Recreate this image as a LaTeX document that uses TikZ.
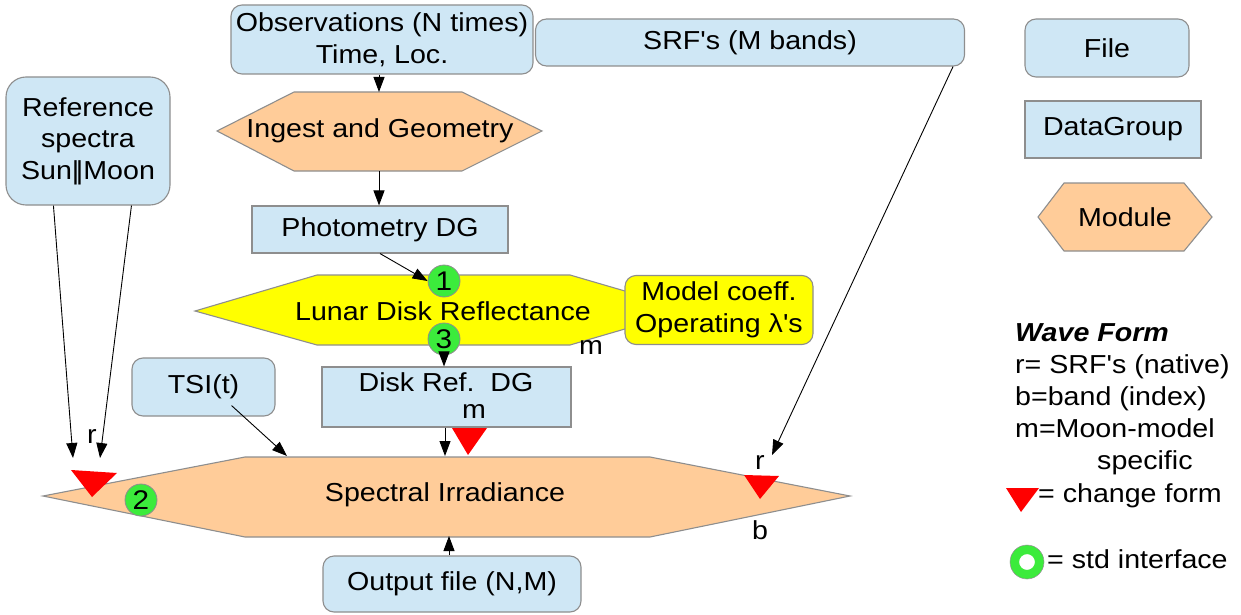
\documentclass[tikz,border=0pt]{standalone}
\usepackage{fontspec}
\setmainfont{Liberation Sans}[FakeStretch=1.1, Ligatures=TeXOff]
\usetikzlibrary{arrows.meta,calc}
\definecolor{fileblue}{HTML}{CFE7F5}
\definecolor{modorange}{HTML}{FFCC99}
\definecolor{lunaryellow}{HTML}{FFFF00}
\definecolor{ifgreen}{HTML}{3CEB3C}
\definecolor{edgegray}{HTML}{8E8E8E}
\definecolor{formred}{HTML}{FF0000}

\tikzset{
  txt/.style={font=\fontsize{26}{31.5}\selectfont, inner sep=0pt},
  filebox/.style={draw=edgegray, line width=1.1pt, fill=fileblue, rounded corners=11pt,
    align=center, inner sep=0pt, font=\fontsize{26}{31.5}\selectfont},
  dgbox/.style={draw=edgegray, line width=1.1pt, fill=fileblue,
    align=center, inner sep=0pt, font=\fontsize{26}{31.5}\selectfont},
  modshape/.style={draw=edgegray, line width=1.1pt, fill=modorange},
  lunshape/.style={draw=edgegray, line width=1.1pt, fill=lunaryellow},
  arr/.style={draw=black, line width=0.9pt, -{Triangle[length=15pt,width=11pt]}},
  iface/.style={circle, draw=edgegray, line width=0.8pt, fill=ifgreen,
    minimum size=32pt, inner sep=0pt, font=\fontsize{27}{27}\selectfont},
}

\begin{document}
\begin{tikzpicture}[x=1pt,y=-1pt]
\useasboundingbox (0,0) rectangle (1241,615);

% ---------- input files ----------
\node[filebox, minimum width=302pt, minimum height=69pt] (obs) at (382,39.5)
  {Observations (N times)\\Time, Loc.};
\node[filebox, minimum width=429pt, minimum height=47pt] (srf) at (750,42.5)
  {SRF's (M bands)};
\node[filebox, rounded corners=20pt, minimum width=164pt, minimum height=128pt] (ref) at (88,141)
  {Reference\\spectra\\Sun|\kern-0.13em|Moon};

% ---------- Ingest and Geometry module ----------
\draw[modshape] (217,131) -- (294,92) -- (462,92) -- (542,131) -- (462,171) -- (294,171) -- cycle;
\node[txt] (ingest) at (380,131) {Ingest and Geometry};
\coordinate (ingest-n) at (379,92);
\coordinate (ingest-s) at (379,171);

% ---------- Photometry data group ----------
\node[dgbox, minimum width=256pt, minimum height=47pt] (photo) at (380,229.5) {Photometry DG};

% ---------- Lunar Disk Reflectance module ----------
\draw[lunshape] (195,311) -- (317,275) -- (570,275) -- (690,310) -- (570,345) -- (317,345) -- cycle;
\node[txt] (lunar) at (443,311) {Lunar Disk Reflectance};
\node[filebox, fill=lunaryellow, minimum width=188pt, minimum height=69pt] (model) at (719,310)
  {Model coeff.\\Operating λ's};
\node[iface] (if1) at (444,281) {1};
\node[iface] (if3) at (444,339) {3};
\node[txt] (mlun) at (591,348) {m};

% ---------- Disk reflectance data group ----------
\node[dgbox, minimum width=249pt, minimum height=60pt] (disk) at (446.5,397) {};
\node[txt] (disktxt) at (446,382) {Disk Ref.\ \ DG};
\node[txt] (diskm) at (474,412) {m};

\node[filebox, minimum width=143pt, minimum height=58pt] (tsi) at (203.5,387) {TSI(t)};

% ---------- Spectral Irradiance module ----------
\draw[modshape] (43,496) -- (245,457) -- (650,457) -- (850,496) -- (650,537) -- (245,537) -- cycle;
\node[txt] (si) at (445,495) {Spectral Irradiance};
\coordinate (si-tsi) at (287,456);
\coordinate (si-disk) at (445,456);
\coordinate (si-refa) at (73,458);
\coordinate (si-refb) at (100,458);
\coordinate (si-srf) at (772,455);
\coordinate (si-s) at (449,536);

\node[filebox, minimum width=258pt, minimum height=56pt] (out) at (452,584) {Output file (N,M)};

% ---------- connectors ----------
\draw[arr] (obs.south -| ingest-n) -- (ingest-n);
\draw[arr] (ingest-s) -- (photo.north -| ingest-s);
\draw[arr] (photo.south) -- (if1.west);
\draw[arr] (if3.south) -- (disk.north -| if3.south);
\draw[arr] (disk.south -| si-disk) -- (si-disk);
\draw[arr] ($(tsi.south east)+(-44,-11)$) -- (si-tsi);
\draw[arr] ($(ref.south west)+(48,0)$) -- (si-refa);
\draw[arr] ($(ref.south west)+(126,0)$) -- (si-refb);
\draw[arr] ($(srf.south east)+(-12,0)$) -- (si-srf);
\draw[arr] (out.north -| si-s) -- (si-s);

% ---------- wave form changes and interfaces ----------
\fill[formred] (452,428) -- (487,428) -- (468,455) -- cycle;
\fill[formred] (71,470) -- (117,473) -- (92,497) -- cycle;
\fill[formred] (744,475) -- (779,476) -- (760,499) -- cycle;
\node[iface] (if2) at (141,500) {2};
\node[txt] (rleft) at (92,436) {r};
\node[txt] (rright) at (760,462) {r};
\node[txt] (bright) at (760,530) {b};

% ---------- legend ----------
\node[filebox, minimum width=164pt, minimum height=58pt] (lfile) at (1107,48) {File};
\node[dgbox, minimum width=176pt, minimum height=57pt] (ldg) at (1113,129.5) {DataGroup};
\draw[modshape] (1038,217) -- (1064,183) -- (1184,183) -- (1212,217) -- (1184,251) -- (1064,251) -- cycle;
\node[txt] (lmod) at (1125,217) {Module};

\node[txt, anchor=base west] (lwave) at (1015,341) {\bfseries\itshape Wave Form};
\node[txt, anchor=base west] (lr) at (1015,373) {r= SRF's (native)};
\node[txt, anchor=base west] (lb) at (1015,405) {b=band (index)};
\node[txt, anchor=base west] (lm) at (1015,437) {m=Moon-model};
\node[txt, anchor=base west] (lspec) at (1097,469) {specific};
\fill[formred] (1006,488) -- (1039,488) -- (1021,512) -- cycle;
\node[txt, anchor=base west] (lchg) at (1038,502) {= change form};
\draw[draw=ifgreen, line width=9pt] (1027,562) circle (12.5pt);
\draw[edgegray, line width=0.5pt] (1027,562) circle (17pt);
\node[txt, anchor=base west] (lstd) at (1047,568) {= std interface};
\end{tikzpicture}
\end{document}
